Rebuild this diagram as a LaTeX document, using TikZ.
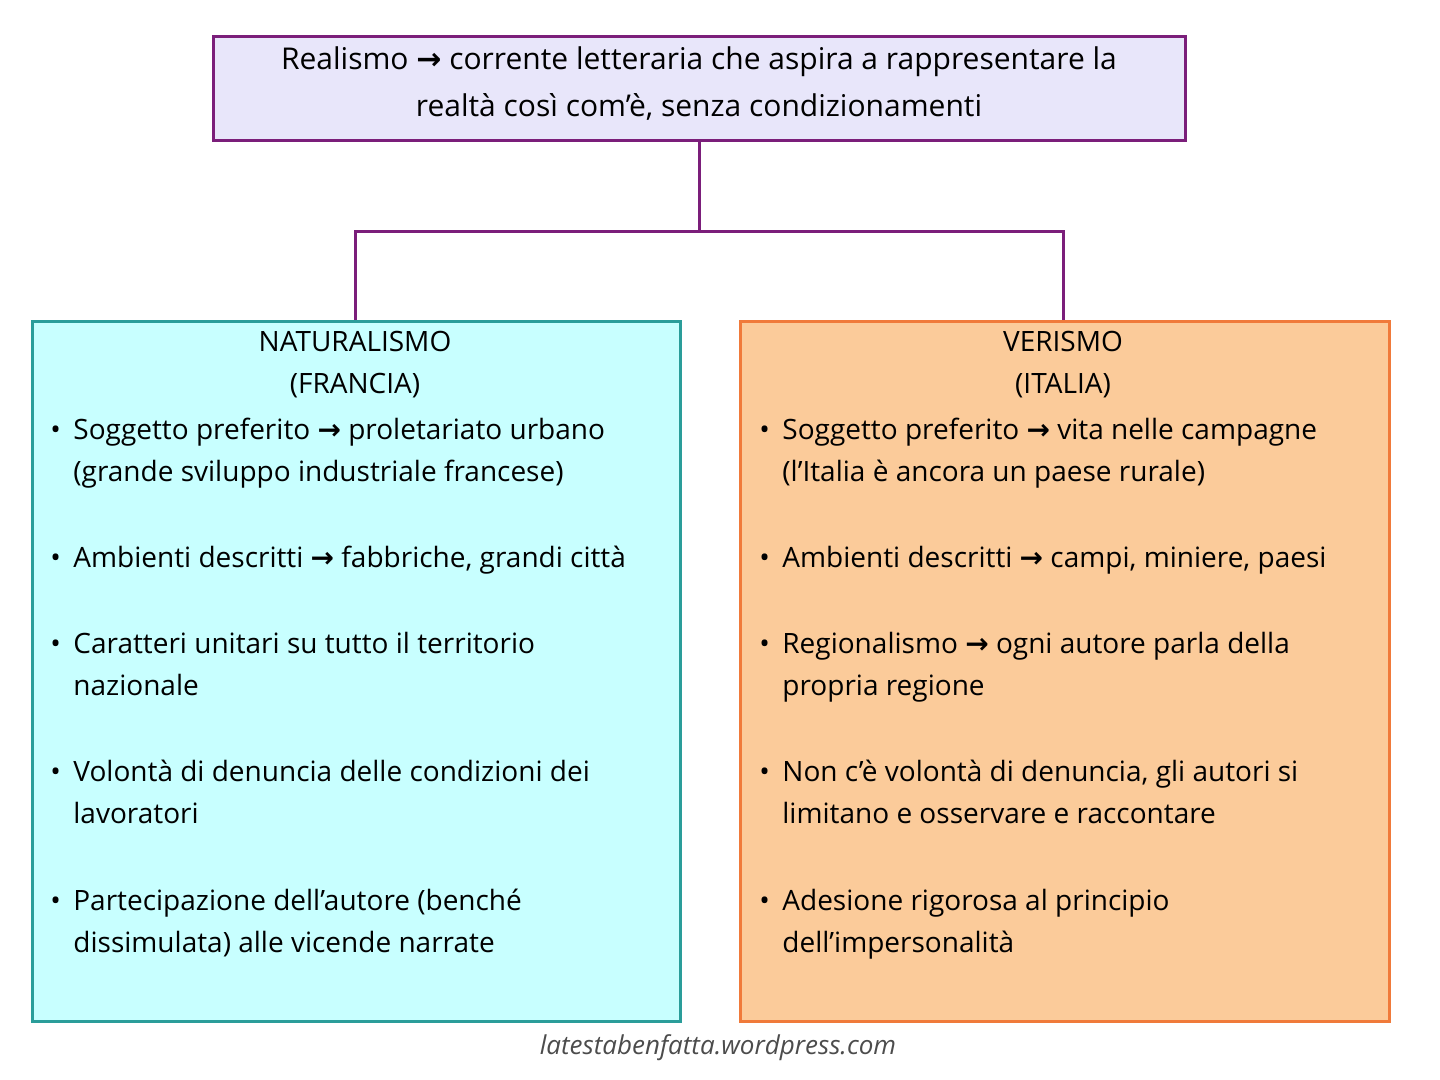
\documentclass[tikz,border=0pt]{standalone}
\usepackage{amsmath}
\usepackage{fontspec}
\setmainfont{Open Sans}
\newfontfamily\symfont{DejaVu Sans}
\usetikzlibrary{positioning}
\definecolor{lav}{HTML}{E8E6FA}
\definecolor{purp}{HTML}{7B1E7A}
\definecolor{cyanbg}{HTML}{C8FFFF}
\definecolor{teal2}{HTML}{2A9D9A}
\definecolor{peach}{HTML}{FBCB9A}
\definecolor{orng}{HTML}{F07A3A}
\newcommand{\ar}{{\symfont\bfseries →}}
\newcommand{\itmtxt}[1]{\makebox[11.5pt][l]{\textbullet}\begin{tabular}[t]{@{}l@{}}#1\end{tabular}}
\begin{document}
\begin{tikzpicture}[x=0.5pt,y=-0.5pt,
  txt/.style={font=\fontsize{14}{21}\selectfont,inner sep=0pt},
  itm/.style={txt,anchor=north west}]
\useasboundingbox (0,0) rectangle (1440,1080);
% boxes
\node[draw=purp,fill=lav,line width=1.5pt,minimum width=486pt,minimum height=52pt,inner sep=0pt] (top) at (699,89) {};
\node[txt,align=center,font=\fontsize{15}{23.5}\selectfont] (toptxt) at (699,84) {Realismo \ar\ corrente letteraria che aspira a rappresentare la\\realtà così com'è, senza condizionamenti};
\node[draw=teal2,fill=cyanbg,line width=1.5pt,minimum width=324pt,minimum height=350pt,inner sep=0pt,anchor=north west] (nat) at (31,320) {};
\node[draw=orng,fill=peach,line width=1.5pt,minimum width=324.5pt,minimum height=350pt,inner sep=0pt,anchor=north west] (ver) at (739,320) {};
% connectors
\coordinate (mid) at (699,232);
\draw[purp,line width=1.5pt] (top.south) -- (mid);
\draw[purp,line width=1.5pt] (nat.north -| 355,0) |- (mid) -| (ver.north -| 1063,0);
% titles
\node[txt,align=center] (natT) at (355,365) {NATURALISMO\\(FRANCIA)};
\node[txt,align=center] (verT) at (1063,365) {VERISMO\\(ITALIA)};
% left items
\foreach \y/\t in {410/{Soggetto preferito \ar\ proletariato urbano\\(grande sviluppo industriale francese)},
  538/{Ambienti descritti \ar\ fabbriche, grandi città},
  624/{Caratteri unitari su tutto il territorio\\nazionale},
  752/{Volontà di denuncia delle condizioni dei\\lavoratori},
  881/{Partecipazione dell’autore (benché\\dissimulata) alle vicende narrate}}
{\node[itm] at (50,\y) {\itmtxt{\t}};}
% right items
\foreach \y/\t in {410/{Soggetto preferito \ar\ vita nelle campagne\\(l'Italia è ancora un paese rurale)},
  538/{Ambienti descritti \ar\ campi, miniere, paesi},
  624/{Regionalismo \ar\ ogni autore parla della\\propria regione},
  752/{Non c'è volontà di denuncia, gli autori si\\limitano e osservare e raccontare},
  881/{Adesione rigorosa al principio\\dell’impersonalità}}
{\node[itm] at (759,\y) {\itmtxt{\t}};}
% footer
\node[txt,font=\fontsize{13}{15}\selectfont\itshape,text=black!70] (foot) at (718,1048) {latestabenfatta.wordpress.com};
\end{tikzpicture}
\end{document}
